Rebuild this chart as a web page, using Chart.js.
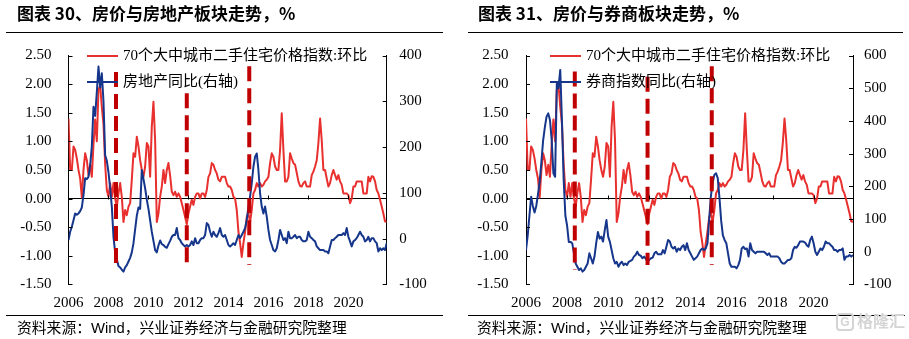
<!DOCTYPE html>
<html>
<head>
<meta charset="utf-8">
<script src="https://cdn.jsdelivr.net/npm/chart.js@4"></script>
<style>
  body { margin: 0; background: #fff; }
  #page { position: relative; width: 909px; height: 339px; overflow: hidden; background: #fff; }
  canvas { position: absolute; top: 0; }
  .title { position: absolute; top: 4px; font: bold 17px/17px "Noto Sans CJK SC", sans-serif; color: #000; white-space: nowrap; }
  .rule { position: absolute; height: 0; border-top: 1px solid #000; }
  .src { position: absolute; top: 319px; font: 14.8px/15px "Noto Sans CJK SC", sans-serif; color: #000; white-space: nowrap; }
  .src span { font-family: "Liberation Sans", Arial, sans-serif; }
  .lg { position: absolute; font: 15px/15px "Liberation Serif", "Noto Sans CJK SC", serif; color: #000; white-space: nowrap; }
  .lgline { position: absolute; height: 2px; }
  .wm { position: absolute; left: 836px; top: 311px; color: #d4d4d4; font: bold 16px/18px "Noto Sans CJK SC", sans-serif; white-space: nowrap; }
  .wm b { display: inline-block; width: 14px; height: 14px; border: 2px solid #d4d4d4; border-radius: 4px; font: bold 12px/14px "Liberation Sans", sans-serif; text-align: center; margin-right: 3px; vertical-align: 1px; }
</style>
</head>
<body>
<div id="page">
  <canvas id="cA" width="455" height="339" style="left:0"></canvas>
  <canvas id="cB" width="454" height="339" style="left:455px"></canvas>
  <div class="title" style="left:17px">图表 30、房价与房地产板块走势，%</div>
  <div class="title" style="left:478px">图表 31、房价与券商板块走势，%</div>
  <div class="rule" style="left:6px;width:437px;top:32px"></div>
  <div class="rule" style="left:468px;width:435px;top:32px"></div>
  <div class="rule" style="left:6px;width:437px;top:315px"></div>
  <div class="rule" style="left:468px;width:437px;top:315px"></div>
  <div class="src" style="left:17px">资料来源：<span>Wind</span>，兴业证券经济与金融研究院整理</div>
  <div class="src" style="left:477px">资料来源：<span>Wind</span>，兴业证券经济与金融研究院整理</div>
  <div class="wm"><b>G</b>格隆汇</div>
  <div id="legendA"></div>
  <div id="legendB"></div>
</div>
<script>
/* 数据：月度，2006-01 起 */
var START_YEAR = 2006;

// 70个大中城市二手住宅价格指数:环比 (%)
var hpiMoM = [
  1.40, 0.50, 0.50, 0.91, 0.85, 0.70, 0.50, 0.35, 0.02, 0.50, 0.79, 0.67,
  0.41, 0.59, 0.38, 0.95, 1.38, 1.00, 1.90, 1.98, 1.60, 1.30, 0.60, 0.15,
  0.03, 0.27, 0.03, 0.27, 0.00, -0.14, 0.09, 0.27, 0.03, -0.41, -0.20, -0.29,
  -0.14, -0.08, 0.33, 0.79, 0.73, 1.08, 0.91, 0.67, 0.50, 0.38, 0.56, 0.97,
  0.91, 0.38, 1.26, 1.69, 1.02, -0.41, -0.26, 0.03, 0.21, 0.50, 0.27, 0.50,
  0.62, 0.40, 0.12, 0.06, 0.12, 0.03, 0.09, 0.03, -0.08, -0.20, -0.32, -0.45,
  -0.26, -0.14, -0.02, -0.11, 0.03, 0.09, 0.09, 0.00, 0.09, 0.09, 0.03, 0.15,
  0.38, 0.44, 0.62, 0.59, 0.50, 0.44, 0.33, 0.30, 0.38, 0.38, 0.38, 0.27,
  0.21, 0.21, 0.15, 0.03, 0.00, -0.20, -0.58, -0.78, -1.02, -0.78, -0.58, -0.32,
  -0.26, -0.41, -0.20, 0.09, 0.15, 0.27, 0.21, 0.27, 0.21, 0.24, 0.30, 0.33,
  0.38, 0.62, 0.79, 0.73, 0.56, 0.50, 0.50, 0.85, 1.49, 0.85, 0.30, 0.30,
  0.38, 0.79, 0.70, 0.62, 0.59, 0.45, 0.30, 0.22, 0.21, 0.27, 0.30, 0.21,
  0.21, 0.21, 0.41, 0.47, 0.56, 0.67, 0.97, 1.40, 1.02, 0.50, 0.50, 0.35,
  0.21, 0.27, 0.41, 0.50, 0.41, 0.33, 0.41, 0.30, 0.24, 0.09, 0.09, 0.09,
  0.06, -0.08, 0.00, 0.21, 0.21, 0.30, 0.30, 0.30, 0.30, 0.09, 0.09, 0.09,
  0.38, 0.30, 0.39, 0.38, 0.30, 0.15, 0.09, -0.02, -0.14, -0.26, -0.40, -0.40
];

// 房地产同比 (右轴, %)
var propertyYoY = [
  -3, 15, 26, 40, 55, 52, 55, 60, 68, 95, 132, 130,
  135, 160, 201, 288, 268, 320, 376, 330, 361, 300, 182, 170,
  145, 110, 70, 4, -30, -45, -60, -63, -68, -72, -63, -58,
  -50, -42, -30, -10, 20, 50, 68, 65, 150, 130, 110, 85,
  65, 40, 15, -5, -25, -30, -15, -4, -12, -14, -18, -20,
  -12, -5, 4, 8, 8, 23, 1, -3, -10, -14, -17, -14,
  -17, -14, -6, -14, 1, -10, -10, -3, 1, 1, 8, 34,
  30, 15, 4, 15, 8, 4, 12, 23, 8, 4, 8, -3,
  -14, -17, -14, -10, -14, -3, 8, 1, 8, 15, 23, 41,
  70, 92, 121, 157, 179, 186, 150, 99, 70, 55, 70, 48,
  19, -3, -14, -25, -28, -21, -3, 19, 8, -3, 1, -10,
  15, 1, 1, 4, 8, 1, 4, 4, -3, -6, -6, -3,
  15, 4, 1, -3, -6, -17, -21, -25, -25, -25, -28, -28,
  -32, -17, -3, -3, 1, 4, 8, 8, 8, 12, 8, 23,
  4, -6, -17, -6, -3, 1, 8, 15, 8, 4, -6, -3,
  4, -6, 1, 1, -6, -10, -28, -21, -25, -21, -25, -10
];

// 券商指数同比 (右轴, %)
var brokerYoY = [
  5, 50, 110, 168, 140, 120, 140, 175, 215, 275, 340, 380,
  413, 423, 403, 342, 240, 229, 515, 500, 556, 400, 220, 110,
  80, 30, 30, 26, -5, -36, -46, -56, -51, -61, -56, -46,
  -36, -5, -20, -36, -15, 26, 60, 40, 46, 31, 66, 97,
  46, 30, 5, -20, -36, -31, -46, -36, -31, -41, -36, -41,
  -31, -28, -25, -15, -10, 0, -10, -12, -20, -15, -22, -31,
  -25, -20, -18, -5, 0, -8, -8, -8, 5, -5, 15, 36,
  31, 15, 10, 15, 0, 10, 5, 15, 20, 5, 26, 5,
  -5, -15, -25, -20, -15, -5, 5, 10, 5, 10, 26, 100,
  170, 210, 235, 240, 225, 165, 95, 50, 36, 26, -5, -36,
  -46, -46, -46, -51, -41, -25, 10, 15, 8, 10, -15, 26,
  5, 0, -5, 0, 0, 0, 0, 0, -5, -10, -5, -15,
  -15, -15, -15, -15, -20, -31, -36, -36, -31, -25, -25, -20,
  5, 15, 12, 20, 31, 31, 31, 28, 20, 15, 36, 46,
  26, 0, -10, 0, 10, 5, 15, 31, 26, 26, 20, 15,
  5, 5, 0, 5, 5, 10, -25, -15, -15, -10, -15, -10
];

var labelHpi = '70个大中城市二手住宅价格指数:环比';
var labelProperty = '房地产同比(右轴)';
var labelBroker = '券商指数同比(右轴)';

var xTickYears = [2006, 2008, 2010, 2012, 2014, 2016, 2018, 2020];
var leftTicks = [-1.5, -1.0, -0.5, 0, 0.5, 1.0, 1.5, 2.0, 2.5];
var rightTicksA = [-100, 0, 100, 200, 300, 400];
var rightTicksB = [-100, 0, 100, 200, 300, 400, 500, 600];

// 红色虚线：月序号(自2006-01)，及上下端(左轴)
var cutMonths = [28.5, 71, 108.5];
var cutTopA = [2.21, 1.84, 2.31];
var cutBottomA = [-1.25, -1.16, -1.16];
var cutTopB = [2.22, 2.13, 2.31];
var cutBottomB = [-1.25, -1.16, -1.16];

var RED = '#E8302F';
var BLUE = '#16368C';
var DASH = '#C00000';
var numFont = { family: "'Liberation Serif', 'Times New Roman', serif", size: 15 };

var innerTicks = {
  id: 'innerTicks',
  afterDraw(chart) {
    var ctx = chart.ctx, a = chart.chartArea;
    var y = chart.scales.y, y1 = chart.scales.y1, x = chart.scales.x;
    ctx.save();
    ctx.strokeStyle = '#000';
    ctx.lineWidth = 1;
    ctx.beginPath();
    y.ticks.forEach(function (t) {
      var p = Math.round(y.getPixelForValue(t.value)) + 0.5;
      ctx.moveTo(a.left, p); ctx.lineTo(a.left + 4, p);
    });
    y1.ticks.forEach(function (t) {
      var p = Math.round(y1.getPixelForValue(t.value)) + 0.5;
      ctx.moveTo(a.right, p); ctx.lineTo(a.right - 4, p);
    });
    var z = Math.round(y.getPixelForValue(0)) + 0.5;
    x.ticks.forEach(function (t) {
      if (t.value === 0) return;
      var p = Math.round(x.getPixelForValue(t.value)) + 0.5;
      ctx.moveTo(p, z); ctx.lineTo(p, z - 4);
    });
    ctx.stroke();
    ctx.restore();
  }
};

function toPoints(arr) {
  return arr.map(function (v, i) { return { x: i, y: v }; });
}

function makeChart(id, series2, label2, rightTicks, tops, bottoms, g) {
  var datasets = [
    { label: labelHpi, data: toPoints(hpiMoM), yAxisID: 'y', borderColor: RED, borderWidth: 2, pointRadius: 0, order: 2 },
    { label: label2, data: toPoints(series2), yAxisID: 'y1', borderColor: BLUE, borderWidth: 2, pointRadius: 0, order: 1 }
  ];
  cutMonths.forEach(function (m, k) {
    datasets.push({
      label: 'cut' + k,
      data: [{ x: m, y: tops[k] }, { x: m, y: bottoms[k] }],
      yAxisID: 'y', borderColor: DASH, borderWidth: 4, borderDash: [15, 7],
      borderCapStyle: 'butt', pointRadius: 0, order: 0
    });
  });

  return new Chart(document.getElementById(id), {
    type: 'line',
    data: { datasets: datasets },
    plugins: [innerTicks],
    options: {
      responsive: false,
      animation: false,
      layout: { padding: { top: 55.5, left: 0, right: 0, bottom: 0 } },
      plugins: { legend: { display: false }, tooltip: { enabled: false } },
      elements: { line: { tension: 0, borderJoinStyle: 'round' } },
      scales: {
        x: {
          type: 'linear', min: 0, max: hpiMoM.length - 1,
          grid: { display: false, drawTicks: false },
          border: { display: false },
          afterBuildTicks: function (s) {
            s.ticks = xTickYears.map(function (yr) { return { value: (yr - START_YEAR) * 12 }; });
          },
          afterFit: function (s) { s.height = 339 - 284.4; },
          ticks: {
            font: numFont, color: '#000', padding: 10, maxRotation: 0, autoSkip: false,
            callback: function (v) { return String(START_YEAR + v / 12); }
          }
        },
        y: {
          position: 'left', min: -1.5, max: 2.5,
          afterBuildTicks: function (s) { s.ticks = leftTicks.map(function (v) { return { value: v }; }); },
          afterFit: function (s) { s.width = g.leftW; },
          grid: {
            drawTicks: false,
            color: function (c) { return c.tick && c.tick.value === 0 ? '#000' : 'rgba(0,0,0,0)'; },
            lineWidth: 1
          },
          border: { display: true, color: '#000', width: 1 },
          ticks: {
            font: numFont, color: '#000', padding: g.leftPad,
            callback: function (v) { return Number(v).toFixed(2); }
          }
        },
        y1: {
          position: 'right', min: rightTicks[0], max: rightTicks[rightTicks.length - 1],
          afterBuildTicks: function (s) { s.ticks = rightTicks.map(function (v) { return { value: v }; }); },
          afterFit: function (s) { s.width = g.rightW; },
          grid: { display: false, drawTicks: false },
          border: { display: true, color: '#000', width: 1 },
          ticks: {
            font: numFont, color: '#000', padding: g.rightPad,
            callback: function (v) { return String(v); }
          }
        }
      }
    }
  });
}

function makeLegend(id, x0, label2) {
  var box = document.getElementById(id);
  [[labelHpi, RED, 55.5], [label2, BLUE, 82]].forEach(function (it) {
    var ln = document.createElement('div');
    ln.className = 'lgline';
    ln.style.cssText = 'left:' + x0 + 'px;width:31px;top:' + (it[2] - 1) + 'px;background:' + it[1];
    box.appendChild(ln);
    var tx = document.createElement('div');
    tx.className = 'lg';
    tx.style.cssText = 'left:' + (x0 + 36) + 'px;top:' + (it[2] - 8) + 'px';
    tx.textContent = it[0];
    box.appendChild(tx);
  });
}

makeChart('cA', propertyYoY, labelProperty, rightTicksA, cutTopA, cutBottomA,
  { leftW: 68.5, rightW: 455 - 386.7, leftPad: 17, rightPad: 12.5 });
makeChart('cB', brokerYoY, labelBroker, rightTicksB, cutTopB, cutBottomB,
  { leftW: 71, rightW: 454 - 398, leftPad: 17.5, rightPad: 11 });
makeLegend('legendA', 87, labelProperty);
makeLegend('legendB', 550, labelBroker);
</script>
</body>
</html>
